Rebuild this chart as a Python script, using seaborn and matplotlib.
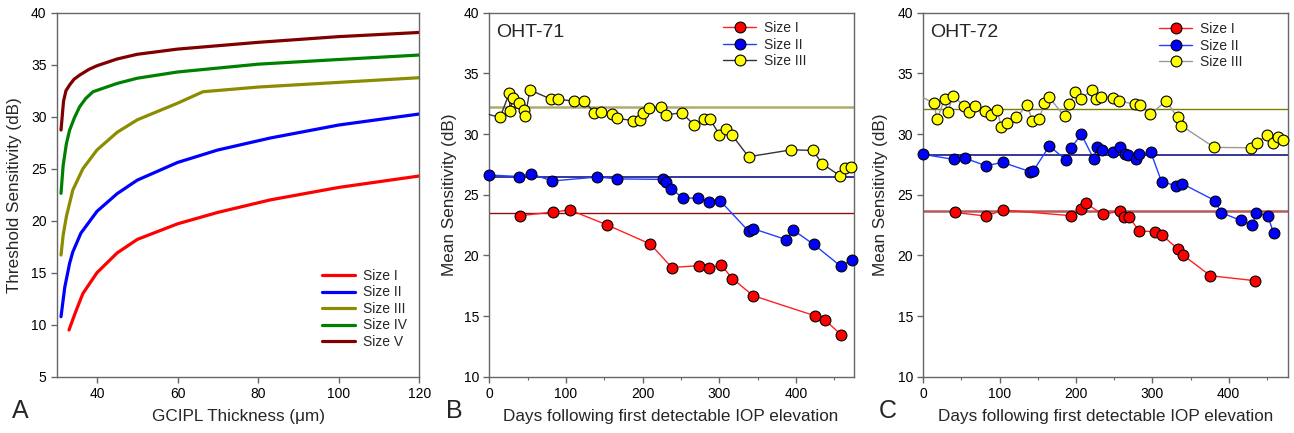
import numpy as np
import pandas as pd
import matplotlib
matplotlib.use("Agg")
import matplotlib.pyplot as plt
from matplotlib.lines import Line2D
from matplotlib.ticker import MultipleLocator
import seaborn as sns

# --- Panel A: model curves, threshold vs GCIPL thickness ---
a_size1_x = [33.05, 34.0, 34.86, 36.5, 40.0, 45.0, 50.0, 60.0, 70.0, 83.0, 100.0, 120.0]
a_size1_y = [9.49, 10.5, 11.4, 13.0, 15.0, 16.9, 18.2, 19.7, 20.8, 22.0, 23.2, 24.3]
a_size2_x = [31.07, 32.0, 33.2, 34.0, 36.0, 40.0, 45.0, 50.0, 60.0, 70.0, 83.0, 100.0, 120.0]
a_size2_y = [10.77, 13.6, 15.9, 17.0, 18.8, 20.9, 22.6, 23.9, 25.6, 26.8, 27.95, 29.2, 30.26]
a_size3_x = [31.07, 31.6, 32.4, 34.0, 36.5, 40.0, 45.0, 50.0, 60.0, 66.3, 80.0, 100.0, 120.0]
a_size3_y = [16.7, 18.6, 20.4, 22.95, 25.0, 26.8, 28.5, 29.7, 31.3, 32.4, 32.85, 33.3, 33.75]
a_size4_x = [31.07, 31.6, 32.4, 33.2, 34.4, 35.7, 37.2, 39.0, 45.0, 50.0, 60.0, 80.0, 100.0,
             120.0]
a_size4_y = [22.63, 25.3, 27.4, 28.7, 29.9, 30.96, 31.75, 32.4, 33.2, 33.7, 34.3, 35.05, 35.5,
             35.93]
a_size5_x = [31.07, 31.7, 32.3, 33.2, 34.3, 35.7, 38.0, 40.0, 45.0, 50.0, 60.0, 80.0, 100.0,
             120.0]
a_size5_y = [28.72, 31.5, 32.5, 33.05, 33.6, 34.0, 34.55, 34.9, 35.55, 36.0, 36.5, 37.15, 37.7,
             38.1]

size_labels = ["Size I", "Size II", "Size III", "Size IV", "Size V"]
a_colors = ["#ff0000", "#0000ff", "#8c8c00", "#008000", "#800000"]

# --- Panel B: OHT-71 ---
b_size1_day = [40, 83, 105, 154, 210, 238, 273, 287, 302, 317, 344, 424, 438, 459]
b_size1_ms = [23.27, 23.57, 23.74, 22.5, 20.93, 19.0, 19.15, 18.93, 19.23, 18.08,
              16.68, 15.03, 14.67, 13.43]
b_size2_day = [0, 39, 54, 82, 141, 167, 226, 230, 237, 252, 272, 287, 301, 338, 344,
               387, 396, 423, 458, 473]
b_size2_ms = [26.62, 26.5, 26.73, 26.13, 26.46, 26.3, 26.26, 26.02, 25.5, 24.75, 24.7,
              24.42, 24.5, 22.0, 22.2, 21.3, 22.1, 20.9, 19.12, 19.6]
b_size3_day = [0, 14, 26, 27, 31, 39, 45, 47, 53, 81, 89, 110, 124, 137, 146, 160, 166,
               188, 197, 201, 208, 224, 230, 251, 267, 280, 288, 300, 309, 316, 338,
               394, 422, 434, 457, 464, 472]
b_size3_ms = [31.6, 31.37, 33.35, 31.9, 32.94, 32.53, 31.98, 31.5, 33.63, 32.86, 32.86,
              32.72, 32.7, 31.76, 31.84, 31.65, 31.3, 31.1, 31.15, 31.7, 32.17, 32.2,
              31.57, 31.76, 30.74, 31.2, 31.2, 29.95, 30.4, 29.95, 28.13, 28.7, 28.65,
              27.55, 26.57, 27.17, 27.3]
b_baseline = [23.52, 26.43, 32.25]

# --- Panel C: OHT-72 ---
c_size1_day = [41, 82, 105, 193, 207, 213, 235, 257, 263, 269, 283, 304, 313, 334, 340,
               376, 435]
c_size1_ms = [23.54, 23.24, 23.74, 23.27, 23.82, 24.29, 23.38, 23.63, 23.13, 23.16,
              22.01, 21.95, 21.65, 20.5, 20.03, 18.32, 17.91]
c_size2_day = [0, 40, 54, 82, 104, 140, 144, 165, 187, 193, 207, 223, 228, 234, 249,
               257, 264, 268, 279, 283, 298, 312, 331, 339, 382, 390, 416, 431, 436,
               451, 459]
c_size2_ms = [28.32, 27.91, 28.02, 27.39, 27.66, 26.9, 26.95, 29.01, 27.86, 28.82,
              29.97, 27.97, 28.9, 28.68, 28.54, 28.9, 28.32, 28.27, 27.94, 28.35, 28.49,
              26.07, 25.74, 25.91, 24.51, 23.52, 22.88, 22.5, 23.49, 23.27, 21.81]
c_size3_day = [0, 14, 18, 28, 32, 39, 53, 60, 68, 81, 89, 97, 102, 109, 122, 136, 143,
               152, 158, 164, 185, 191, 199, 206, 221, 226, 233, 248, 256, 277, 284,
               297, 318, 333, 338, 381, 429, 437, 450, 458, 465, 471]
c_size3_ms = [33.0, 32.53, 31.21, 32.91, 31.81, 33.13, 32.34, 31.84, 32.34, 31.9, 31.57,
              31.98, 30.55, 30.88, 31.37, 32.4, 31.04, 31.24, 32.53, 33.08, 31.46, 32.45,
              33.43, 32.88, 33.63, 32.86, 33.05, 33.0, 32.72, 32.47, 32.4, 31.62, 32.72,
              31.37, 30.69, 28.9, 28.87, 29.29, 29.92, 29.29, 29.73, 29.48]
c_baseline = [23.68, 28.24, 32.03]

sns.set_style("ticks")
plt.rcParams["font.family"] = ["Liberation Sans", "DejaVu Sans"]
plt.rcParams["axes.edgecolor"] = "#666666"
plt.rcParams["xtick.color"] = "#666666"
plt.rcParams["ytick.color"] = "#666666"
plt.rcParams["xtick.labelcolor"] = "black"
plt.rcParams["ytick.labelcolor"] = "black"

W, H = 1294, 433
fig = plt.figure(figsize=(W / 100, H / 100), dpi=100)


def px_axes(left, right, top=12.7, bottom=376.7):
    return fig.add_axes([left / W, (H - bottom) / H, (right - left) / W, (bottom - top) / H])


ax_a = px_axes(56.7, 419.3)
ax_b = px_axes(489.3, 854.0)
ax_c = px_axes(923.3, 1288.3)


def style_axes(ax):
    for sp in ax.spines.values():
        sp.set_visible(True)
        sp.set_linewidth(1.0)
        sp.set_color("#666666")
    ax.tick_params(axis="both", which="major", direction="out", length=4.3, width=1.0,
                   labelsize=10, pad=3)
    ax.tick_params(axis="both", which="minor", direction="out", length=2.5, width=0.8)
    ax.tick_params(top=False, right=False)


# Panel A
a_x = [a_size1_x, a_size2_x, a_size3_x, a_size4_x, a_size5_x]
a_y = [a_size1_y, a_size2_y, a_size3_y, a_size4_y, a_size5_y]
frames = []
for lab, xs, ys in zip(size_labels, a_x, a_y):
    frames.append(pd.DataFrame({"thick": xs, "sens": ys, "size": lab}))
df_a = pd.concat(frames, ignore_index=True)
sns.lineplot(data=df_a, x="thick", y="sens", hue="size", palette=a_colors,
             hue_order=size_labels, estimator=None, sort=False, linewidth=2.3,
             ax=ax_a, legend=False)
for ln in ax_a.get_lines():
    ln.set_solid_joinstyle("round")
ax_a.set_xlim(30, 120)
ax_a.set_ylim(5, 40)
ax_a.xaxis.set_major_locator(MultipleLocator(20))
ax_a.yaxis.set_major_locator(MultipleLocator(5))
style_axes(ax_a)
ax_a.set_xlabel("GCIPL Thickness (\u03bcm)", fontsize=12.3)
ax_a.set_ylabel("Threshold Sensitivity (dB)", fontsize=12.3)
handles_a = [Line2D([], [], color=c, lw=2.3) for c in a_colors]
ax_a.legend(handles_a, size_labels, loc="upper left", bbox_to_anchor=(0.731, 0.296),
            frameon=False, fontsize=10, handlelength=2.4, handletextpad=0.55,
            labelspacing=0.18, borderpad=0, borderaxespad=0)

# Panels B and C
mk_face = ["#ff0000", "#0000ff", "#ffff00"]


def draw_time_panel(ax, days, vals, baselines, line_cols, base_cols, base_lws, title, xmax,
                    anchor):
    for i, (d, v) in enumerate(zip(days, vals)):
        df = pd.DataFrame({"day": d, "ms": v})
        every = slice(1, None) if i == 2 else None
        sns.lineplot(data=df, x="day", y="ms", estimator=None, sort=False, ax=ax,
                     color=line_cols[i], linewidth=1.0, marker="o", markersize=7.8,
                     markerfacecolor=mk_face[i], markeredgecolor="black",
                     markeredgewidth=0.8, markevery=every, clip_on=False, zorder=3 + i)
    for b, c, lw in zip(baselines, base_cols, base_lws):
        ax.axhline(b, color=c, linewidth=lw, zorder=2)
    ax.set_xlim(0, xmax)
    ax.set_ylim(10, 40)
    ax.xaxis.set_major_locator(MultipleLocator(100))
    ax.xaxis.set_minor_locator(MultipleLocator(50))
    ax.yaxis.set_major_locator(MultipleLocator(5))
    style_axes(ax)
    ax.set_xlabel("Days following first detectable IOP elevation", fontsize=12.3)
    ax.set_ylabel("Mean Sensitivity (dB)", fontsize=12.3)
    ax.text(0.018, 0.946, title, transform=ax.transAxes, fontsize=14, ha="left",
            va="center")
    handles = [Line2D([], [], color=line_cols[i], lw=1.0, marker="o", markersize=7.8,
                      markerfacecolor=mk_face[i], markeredgecolor="black",
                      markeredgewidth=0.8) for i in range(3)]
    ax.legend(handles, size_labels[:3], loc="upper left", bbox_to_anchor=anchor,
              frameon=False, fontsize=10, handlelength=2.4, handletextpad=0.55,
              labelspacing=0.18, borderpad=0, borderaxespad=0)


draw_time_panel(ax_b, [b_size1_day, b_size2_day, b_size3_day],
                [b_size1_ms, b_size2_ms, b_size3_ms], b_baseline,
                ["#ff2020", "#2040ff", "#333333"], ["#8b1010", "#000080", "#acac6c"],
                [1.0, 1.1, 1.8], "OHT-71", 475.5, (0.641, 0.977))
draw_time_panel(ax_c, [c_size1_day, c_size2_day, c_size3_day],
                [c_size1_ms, c_size2_ms, c_size3_ms], c_baseline,
                ["#ff2020", "#2040ff", "#999999"], ["#b45a5a", "#000080", "#808000"],
                [1.8, 1.1, 1.0], "OHT-72", 478.0, (0.646, 0.974))

# label positions
for ax, left, ylab_x, xlab_x in [(ax_a, 56.7, 15.0, 238.0), (ax_b, 489.3, 449.3, 671.0),
                                 (ax_c, 923.3, 881.0, 1106.0)]:
    width = ax.get_position().width * W
    ax.yaxis.set_label_coords((ylab_x - left) / width, 0.5)
    ax.yaxis.label.set_va("center")
    ax.xaxis.set_label_coords((xlab_x - left) / width, (376.7 - 417.0) / 364.0)
    ax.xaxis.label.set_va("center")

for letter, xp in [("A", 20.0), ("B", 454.0), ("C", 888.0)]:
    fig.text(xp / W, (H - 411.5) / H, letter, fontsize=18, ha="center", va="center")

fig.savefig("out.png", dpi=100)
